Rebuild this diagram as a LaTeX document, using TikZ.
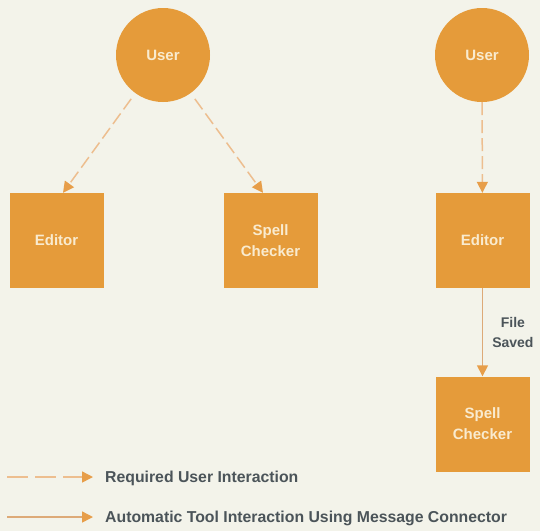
\documentclass[tikz,border=0pt]{standalone}
\usepackage{fontspec}
\setmainfont{Liberation Sans}
\usetikzlibrary{arrows.meta}
\definecolor{bg}{HTML}{F3F3EA}
\definecolor{orng}{HTML}{E59B3A}
\definecolor{dashc}{HTML}{EDBE8F}
\definecolor{solidc}{HTML}{DDAA78}
\definecolor{headc}{HTML}{E79E4A}
\definecolor{boxtxt}{HTML}{F9EBCF}
\definecolor{lbl}{HTML}{4B5459}
\begin{document}
\begin{tikzpicture}[x=1pt,y=-1pt,
  usernode/.style={circle, fill=orng, minimum size=94pt, inner sep=0pt, text=boxtxt, font=\bfseries\fontsize{15}{20}\selectfont},
  toolbox/.style={rectangle, fill=orng, minimum width=94pt, minimum height=95pt, inner sep=0pt, text=boxtxt, align=center, font=\bfseries\fontsize{15}{21}\selectfont},
  userarrow/.style={draw=dashc, line width=1.5pt, dash pattern=on 13pt off 5pt, -{Triangle[width=11pt,length=11pt,color=headc]}},
  autoarrow/.style={draw=solidc, line width=1.5pt, -{Triangle[width=11pt,length=11pt,color=headc]}},
  lbltext/.style={text=lbl, font=\bfseries\fontsize{15.8}{18}\selectfont, anchor=west, inner sep=0pt},
  evtext/.style={text=lbl, align=center, font=\bfseries\fontsize{14}{20}\selectfont, inner sep=0pt}
]
\useasboundingbox (0,0) rectangle (540,531);
\fill[bg] (0,0) rectangle (540,531);

% left scenario
\node[usernode] (u1) at (163,55) {User};
\node[toolbox] (ed1) at (56.5,240.5) {Editor};
\node[toolbox] (sp1) at (270.5,240.5) {Spell\\Checker};
\draw[userarrow, shorten <=7pt] (u1) -- ([xshift=6.5pt]ed1.north);
\draw[userarrow, shorten <=7pt] (u1) -- ([xshift=-7.5pt]sp1.north);

% right scenario
\node[usernode] (u2) at (482,55) {User};
\node[toolbox] (ed2) at (482.5,240.5) {Editor};
\node[toolbox] (sp2) at (482.5,424) {Spell\\Checker};
\draw[userarrow] (u2) -- (ed2);
\draw[autoarrow] (ed2) -- (sp2) node[evtext, pos=0.5, right=9pt] (ev) {File\\Saved};

% legend
\coordinate (l1s) at (7,477);
\coordinate (l1e) at (93,477);
\coordinate (l2s) at (7,517);
\coordinate (l2e) at (93,517);
\draw[userarrow, dash pattern=on 21pt off 7pt] (l1s) -- (l1e);
\draw[autoarrow] (l2s) -- (l2e);
\node[lbltext] (t1) at (105,478) {Required User Interaction};
\node[lbltext] (t2) at (105,518) {Automatic Tool Interaction Using Message Connector};
\end{tikzpicture}
\end{document}
